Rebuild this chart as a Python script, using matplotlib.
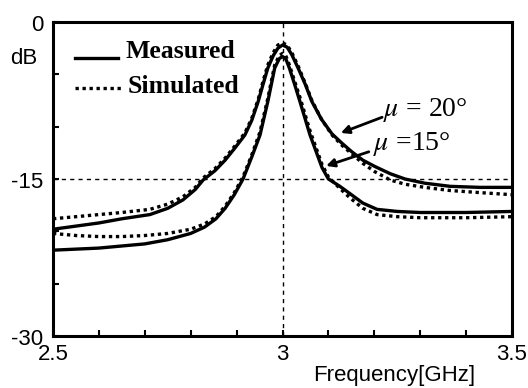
import matplotlib
matplotlib.use("Agg")
import matplotlib.pyplot as plt
import matplotlib.transforms as mtransforms
import numpy as np

plt.rcParams['mathtext.fontset'] = 'stix'

# ---- data ----
# mu = 20 deg, measured
f20_meas = [2.5, 2.55, 2.6, 2.65, 2.711, 2.75, 2.783, 2.81, 2.827, 2.853, 2.875, 2.897, 2.918, 2.933, 2.947, 2.958, 2.968, 2.98, 2.99, 3.0, 3.01, 3.02, 3.034, 3.05, 3.064, 3.085, 3.108, 3.13, 3.151, 3.175, 3.201, 3.235, 3.267, 3.31, 3.365, 3.43, 3.5]
s20_meas = [-19.8, -19.5, -19.2, -18.8, -18.4, -17.8, -17.0, -16.0, -15.1, -14.2, -13.2, -12.0, -10.8, -9.4, -7.6, -5.9, -4.4, -3.2, -2.5, -2.2, -2.4, -3.1, -4.4, -6.0, -7.6, -9.3, -10.7, -11.6, -12.4, -13.2, -13.8, -14.5, -15.0, -15.4, -15.7, -15.8, -15.8]
# mu = 20 deg, simulated
f20_sim = [2.5, 2.55, 2.6, 2.65, 2.711, 2.75, 2.783, 2.81, 2.827, 2.853, 2.875, 2.897, 2.918, 2.933, 2.947, 2.958, 2.968, 2.98, 2.99, 3.0, 3.01, 3.02, 3.034, 3.05, 3.064, 3.085, 3.108, 3.13, 3.151, 3.175, 3.201, 3.235, 3.267, 3.31, 3.365, 3.43, 3.5]
s20_sim = [-18.8, -18.6, -18.4, -18.2, -17.9, -17.4, -16.7, -15.8, -14.9, -14.0, -13.0, -11.8, -10.6, -9.2, -7.4, -5.6, -4.1, -2.9, -2.2, -2.0, -2.2, -2.9, -4.2, -5.9, -7.5, -9.3, -10.8, -11.8, -12.6, -13.5, -14.3, -15.1, -15.5, -15.8, -16.1, -16.3, -16.5]
# mu = 15 deg, measured
f15_meas = [2.5, 2.55, 2.6, 2.65, 2.7, 2.75, 2.8, 2.83, 2.855, 2.875, 2.895, 2.914, 2.933, 2.951, 2.968, 2.983, 2.993, 3.0, 3.007, 3.015, 3.026, 3.038, 3.06, 3.086, 3.1, 3.125, 3.147, 3.175, 3.206, 3.25, 3.3, 3.4, 3.5]
s15_meas = [-21.8, -21.7, -21.6, -21.4, -21.2, -20.8, -20.2, -19.6, -18.8, -17.8, -16.5, -15.0, -12.9, -10.8, -7.6, -4.4, -3.5, -3.3, -3.5, -4.4, -5.9, -7.6, -10.8, -13.9, -15.0, -15.7, -16.4, -17.3, -17.9, -18.1, -18.2, -18.2, -18.1]
# mu = 15 deg, simulated
f15_sim = [2.5, 2.55, 2.6, 2.65, 2.7, 2.75, 2.8, 2.83, 2.855, 2.875, 2.895, 2.914, 2.933, 2.951, 2.968, 2.983, 2.993, 3.0, 3.007, 3.015, 3.026, 3.038, 3.06, 3.086, 3.1, 3.125, 3.147, 3.175, 3.206, 3.25, 3.3, 3.4, 3.5]
s15_sim = [-20.2, -20.4, -20.5, -20.5, -20.4, -20.2, -19.8, -19.3, -18.6, -17.6, -16.3, -14.8, -12.7, -10.5, -7.3, -4.1, -3.2, -3.0, -3.2, -4.1, -5.6, -7.2, -10.4, -13.6, -14.8, -15.9, -16.8, -17.8, -18.4, -18.6, -18.7, -18.7, -18.6]

x_ticks = [2.5, 3.0, 3.5]
x_ticklabels = ['2.5', '3', '3.5']
y_ticks = [0, -15, -30]
y_ticklabels = ['0', '-15', '-30']
legend_labels = ['Measured', 'Simulated']
curve_labels = ['$\\mu$ = 20°', '$\\mu$ =15°']

# ---- figure ----
W, H = 528, 388
fig = plt.figure(figsize=(W / 100, H / 100), dpi=100)
ax = fig.add_axes([53 / W, 1 - 336 / H, (512 - 53) / W, (336 - 22) / H])

lw = 2.4
dot = (0, (1, 1.1))
ax.plot(f20_meas, s20_meas, color='black', lw=lw, solid_joinstyle='round')
ax.plot(f15_meas, s15_meas, color='black', lw=lw, solid_joinstyle='round')
ax.plot(f20_sim, s20_sim, color='black', lw=lw, linestyle=dot)
ax.plot(f15_sim, s15_sim, color='black', lw=lw, linestyle=dot)

ax.set_xlim(2.5, 3.5)
ax.set_ylim(-30, 0)

# reference dashed lines
ax.axhline(-15, color='black', lw=1.0, linestyle=(0, (3, 3)))
ax.axvline(3.0, color='black', lw=1.0, linestyle=(0, (3, 3)))

ax.set_xticks(x_ticks)
ax.set_xticklabels(x_ticklabels)
ax.set_yticks(y_ticks)
ax.set_yticklabels(y_ticklabels)
ax.set_xticks(np.arange(2.6, 3.45, 0.1), minor=True)
ax.set_yticks([-5, -10, -20, -25], minor=True)
ax.tick_params(which='both', direction='in', width=1.5, length=4, labelsize=16)
ax.tick_params(axis='x', which='major', pad=6)
ax.tick_params(axis='y', which='major', pad=7)
shift = mtransforms.ScaledTranslation(0, -0.01, fig.dpi_scale_trans)
for t in ax.get_xticklabels() + ax.get_yticklabels():
    t.set_fontfamily('Liberation Sans')
for t in ax.get_yticklabels():
    t.set_transform(t.get_transform() + shift)

for sp in ax.spines.values():
    sp.set_linewidth(2.2)

# legend (drawn by hand, line at text baseline as in the original)
ax.plot([75 / W, 118 / W], [1 - 58 / H, 1 - 58 / H], color='black', lw=lw,
        transform=fig.transFigure, clip_on=False)
ax.plot([75 / W, 121 / W], [1 - 88 / H, 1 - 88 / H], color='black', lw=lw,
        linestyle=dot, transform=fig.transFigure, clip_on=False)
fig.text(125 / W, 1 - 58 / H, legend_labels[0], fontsize=18.5,
         family='Liberation Serif', weight='bold', ha='left', va='baseline')
fig.text(128 / W, 1 - 93 / H, legend_labels[1], fontsize=18.5,
         family='Liberation Serif', weight='bold', ha='left', va='baseline')

# curve annotations
ax.annotate('', xy=(3.127, -10.6), xytext=(3.217, -9.1),
            arrowprops=dict(arrowstyle='-|>', color='black', lw=2.0,
                            mutation_scale=12, shrinkA=0, shrinkB=0))
ax.annotate('', xy=(3.095, -13.75), xytext=(3.188, -12.4),
            arrowprops=dict(arrowstyle='-|>', color='black', lw=2.0,
                            mutation_scale=12, shrinkA=0, shrinkB=0))
ax.text(3.218, -8.4, curve_labels[0], fontsize=20, family='Liberation Serif',
        ha='left', va='center')
ax.text(3.198, -11.7, curve_labels[1], fontsize=20, family='Liberation Serif',
        ha='left', va='center')

fig.text(24 / W, 1 - 59 / H, 'dB', fontsize=16, family='Liberation Sans',
         ha='center', va='center')
fig.text(394 / W, 1 - 376 / H, 'Frequency[GHz]', fontsize=16,
         family='Liberation Sans', ha='center', va='center')

fig.savefig('out.png', dpi=100)
